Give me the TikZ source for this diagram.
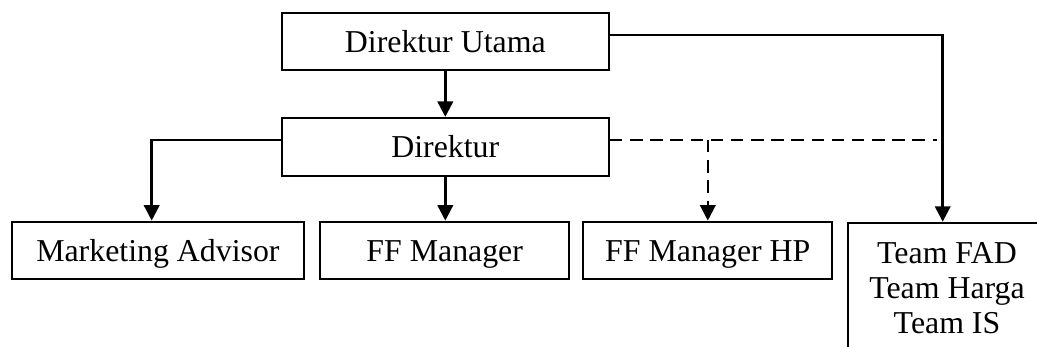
\documentclass[tikz,border=0pt]{standalone}
\usepackage{fontspec}
\setmainfont{Liberation Serif}
\usetikzlibrary{positioning,arrows.meta,calc}
\tikzset{
  flow/.style={-{Triangle[length=5.8pt,width=5.8pt]}, line width=0.95pt, color=black},
  dflow/.style={flow, line width=0.85pt, dash pattern=on 4.7pt off 2.9pt},
  box/.style={draw, line width=0.75pt, minimum height=21.8pt, inner sep=0pt,
    font=\fontsize{12}{13.3}\selectfont, text height=8.2pt, text depth=0pt},
  team/.style={draw, line width=0.75pt, align=center, inner xsep=0pt, inner ysep=7.3pt,
    font=\fontsize{12}{13.3}\selectfont},
}
\begin{document}
\begin{tikzpicture}[x=0.3768pt,y=0.3768pt]
  \useasboundingbox (0,0) rectangle (1037,346);
  % boxes
  \node[box, minimum width=123.3pt] (dirut) at (445.3,304.5) {Direktur Utama};
  \node[box, minimum width=123.3pt] (dir) at (445.3,199.2) {Direktur};
  \node[box, minimum width=110.1pt] (mkt) at (157.9,95.5) {Marketing Advisor};
  \node[box, minimum width=93.9pt] (ffm) at (444.7,95.5) {FF Manager};
  \node[box, minimum width=93.8pt] (ffhp) at (707.8,95.5) {FF Manager HP};
  \node[team, minimum width=74.4pt, anchor=north] (tm) at (947,124.3)
    {Team FAD\\Team Harga\\Team IS};
  % bends of the connectors
  \coordinate (ut) at (942.7,311);
  \coordinate (lt) at (151.7,206);
  \coordinate (de) at (936.7,206);
  % solid lines
  \draw[flow] (dirut) -- (dir);
  \draw[flow] (dirut.east |- ut) -- (ut) -- (ut |- tm.north);
  \draw[flow] (dir.west |- lt) -- (lt) -- (lt |- mkt.north);
  \draw[flow] (dir.south) -- (dir.south |- ffm.north);
  % dashed line to FF Manager HP
  \draw[dflow, -] (dir.east |- de) -- (de);
  \draw[dflow] (ffhp.north |- de) -- (ffhp.north);
\end{tikzpicture}
\end{document}
